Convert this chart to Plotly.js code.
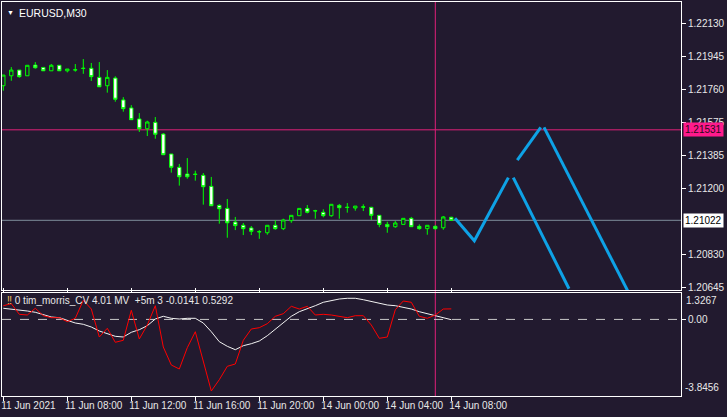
<!DOCTYPE html>
<html><head><meta charset="utf-8">
<script src="https://cdn.plot.ly/plotly-3.0.1.min.js"></script>
<style>html,body{margin:0;padding:0;background:#221a2f;}#chart{width:727px;height:417px;}</style>
</head><body><div id="chart"></div>
<script>
// bar index (30-minute bars, 11 Jun 04:00 .. 14 Jun 08:00, weekend skipped)
const bars = [0,1,2,3,4,5,6,7,8,9,10,11,12,13,14,15,16,17,18,19,20,21,22,23,24,25,26,27,28,29,30,31,32,33,34,35,36,37,38,39,40,41,42,43,44,45,46,47,48,49,50,51,52,53,54,55,56];
const tickIdx = [0,8,16,24,32,40,48,56];
const tickLabels = ['11 Jun 2021','11 Jun 08:00','11 Jun 12:00','11 Jun 16:00','11 Jun 20:00','14 Jun 00:00','14 Jun 04:00','14 Jun 08:00'];

const open  = [1.21779,1.21835,1.21867,1.21835,1.21895,1.21882,1.21863,1.21894,1.21863,1.21867,1.21878,1.21877,1.21826,1.21779,1.21822,1.21699,1.21654,1.21592,1.21537,1.21573,1.21507,1.21395,1.21320,1.21282,1.21282,1.21275,1.21213,1.21106,1.21089,1.21012,1.20994,1.20979,1.20959,1.20952,1.20994,1.20975,1.21020,1.21048,1.21089,1.21076,1.21067,1.21048,1.21106,1.21096,1.21091,1.21098,1.21095,1.21050,1.20999,1.20986,1.20999,1.21033,1.20988,1.20975,1.20988,1.20980,1.21039];
const high  = [1.21839,1.21884,1.21867,1.21894,1.21912,1.21882,1.21901,1.21894,1.21873,1.21901,1.21929,1.21907,1.21912,1.21867,1.21832,1.21715,1.21670,1.21625,1.21582,1.21603,1.21513,1.21395,1.21339,1.21372,1.21301,1.21288,1.21266,1.21112,1.21142,1.21041,1.21007,1.20990,1.20967,1.20994,1.21022,1.21031,1.21050,1.21089,1.21108,1.21081,1.21084,1.21112,1.21114,1.21119,1.21102,1.21112,1.21098,1.21050,1.21014,1.21018,1.21033,1.21041,1.20999,1.20994,1.20994,1.21046,1.21042];
const low   = [1.21751,1.21807,1.21824,1.21835,1.21875,1.21863,1.21863,1.21863,1.21854,1.21858,1.21846,1.21806,1.21773,1.21740,1.21689,1.21633,1.21588,1.21519,1.21496,1.21481,1.21389,1.21290,1.21217,1.21256,1.21245,1.21110,1.21104,1.21003,1.20924,1.20967,1.20939,1.20939,1.20918,1.20941,1.20969,1.20967,1.21008,1.21048,1.21061,1.21031,1.21039,1.21042,1.21031,1.21065,1.21076,1.21074,1.21024,1.20983,1.20952,1.20980,1.20999,1.20986,1.20969,1.20941,1.20969,1.20969,1.21018];
const close = [1.21839,1.21867,1.21830,1.21894,1.21880,1.21863,1.21894,1.21863,1.21873,1.21869,1.21876,1.21830,1.21773,1.21826,1.21703,1.21650,1.21588,1.21537,1.21575,1.21506,1.21391,1.21320,1.21267,1.21267,1.21280,1.21211,1.21104,1.21087,1.21008,1.20992,1.20975,1.20960,1.20957,1.20994,1.20975,1.21024,1.21050,1.21089,1.21067,1.21075,1.21048,1.21112,1.21093,1.21094,1.21102,1.21096,1.21050,1.20999,1.20986,1.21007,1.21033,1.20986,1.20975,1.20994,1.20975,1.21041,1.21022];

// projection (blue) segments, null = break
const projX = [56.46,58.88,63.13,null,63.75,70.71,null,64.25,67.18,null,67.59,78.43];
const projY = [1.21033,1.20907,1.21262,null,1.21262,1.20637,null,1.21361,1.21545,null,1.21545,1.20592];

// price levels
const levelPink = 1.21531;
const levelBid = 1.21022;
const cursorBar = 54;
const priceTicks = [1.22130,1.21945,1.21760,1.21575,1.21385,1.21200,1.20830,1.20645];

// indicator window
const mvLine = [0.559,0.523,0.458,0.423,0.358,0.257,0.122,0.087,-0.044,-0.180,-0.245,-0.381,-0.582,-0.717,-0.848,-0.883,-0.647,-0.516,-0.315,0.021,0.157,0.056,0.021,0.056,0.056,-0.180,-0.617,-1.119,-1.350,-1.520,-1.320,-1.219,-1.084,-0.818,-0.481,-0.180,0.157,0.388,0.523,0.689,0.860,0.960,1.025,1.061,1.061,0.990,0.890,0.789,0.724,0.689,0.624,0.523,0.388,0.287,0.187,0.087,-0.0141];
const cvLine = [0.689,0.789,0.257,0.222,0.559,0.187,0.087,0.087,-0.114,0.056,0.960,0.523,-0.883,-0.446,-1.149,-1.048,0.458,-0.983,-0.280,0.689,-1.385,-2.289,-2.490,-1.420,-0.617,-2.123,-3.594,-3.027,-2.354,-2.239,-1.048,-0.481,-0.416,-0.215,0.157,0.287,0.659,0.523,0.659,0.222,0.257,0.222,0.157,0.087,0.187,0.187,-0.280,-0.948,-0.883,0.488,0.925,0.860,0.157,0.056,0.222,0.523,0.5292];
const indMax = 1.3267, indMin = -3.8456;

const BG = '#221a2f';
const FONT = 'Liberation Sans, Arial, sans-serif';
const PINK = '#e0207a';

const traces = [
  {type:'candlestick', x:bars, open:open, high:high, low:low, close:close, xaxis:'x', yaxis:'y',
   increasing:{line:{color:'#00ff00',width:1}, fillcolor:BG},
   decreasing:{line:{color:'#00ff00',width:1}, fillcolor:'#ffffff'},
   whiskerwidth:0, hoverinfo:'skip'},
  {type:'scatter', mode:'lines', x:projX, y:projY, xaxis:'x', yaxis:'y', connectgaps:false,
   line:{color:'#0ea2e6', width:3}, hoverinfo:'skip'},
  {type:'scatter', mode:'lines', x:bars, y:mvLine, xaxis:'x', yaxis:'y2',
   line:{color:'#f2f2f2', width:1}, hoverinfo:'skip'},
  {type:'scatter', mode:'lines', x:bars, y:cvLine, xaxis:'x', yaxis:'y2',
   line:{color:'#ff0000', width:1}, hoverinfo:'skip'}
];

const axisCommon = {showgrid:false, zeroline:false, showline:true, linecolor:'#ffffff', linewidth:1,
  ticks:'outside', ticklen:4, tickcolor:'#ffffff', fixedrange:true,
  tickfont:{family:FONT, size:10, color:'#e8e8e8'}};

const layout = {
  width:727, height:417,
  paper_bgcolor:BG, plot_bgcolor:BG,
  margin:{l:2, r:46, t:2, b:21},
  showlegend:false,
  boxgap:0.4,
  font:{family:FONT, size:10, color:'#e8e8e8'},
  xaxis:Object.assign({}, axisCommon, {range:[-0.1625,84.7125], anchor:'y2', mirror:'all',
    tickmode:'array', tickvals:tickIdx, ticktext:tickLabels, tickangle:0, ticklabelposition:'outside right',
    ticklabelshift:-3, ticklabeloverflow:'allow', rangeslider:{visible:false}}),
  yaxis:Object.assign({}, axisCommon, {domain:[0.26904,1], range:[1.20630,1.22250], side:'right', mirror:true,
    anchor:'x', tickmode:'array', tickvals:priceTicks, ticktext:priceTicks.map(v=>v.toFixed(5))}),
  yaxis2:Object.assign({}, axisCommon, {domain:[0,0.26142], range:[indMin,indMax], side:'right', mirror:true,
    anchor:'x', tickmode:'array', tickvals:[0], ticktext:['0.00']}),
  shapes:[
    {type:'line', xref:'x', yref:'paper', x0:cursorBar, x1:cursorBar, y0:0, y1:1, layer:'below', line:{color:PINK, width:1}},
    {type:'line', xref:'paper', yref:'y', x0:0, x1:1, y0:levelPink, y1:levelPink, layer:'below', line:{color:PINK, width:1}},
    {type:'line', xref:'paper', yref:'y', x0:0, x1:1, y0:levelBid, y1:levelBid, layer:'below', line:{color:'#7f8e9c', width:1}},
    {type:'line', xref:'paper', yref:'y2', x0:0, x1:1, y0:0, y1:0, layer:'below', line:{color:'#c8c8c8', width:1, dash:'dash'}}
  ],
  annotations:[
    {xref:'paper', yref:'paper', x:0, y:1, xanchor:'left', yanchor:'top', xshift:3, yshift:-5, showarrow:false,
     text:'▼', font:{family:FONT, size:7, color:'#ffffff'}},
    {xref:'paper', yref:'paper', x:0, y:1, xanchor:'left', yanchor:'top', xshift:15, yshift:-3, showarrow:false,
     text:'EURUSD,M30', font:{family:FONT, size:10.5, color:'#ffffff'}},
    {xref:'paper', yref:'y', x:1, y:levelPink, xanchor:'left', yanchor:'middle', xshift:2, showarrow:false,
     text:levelPink.toFixed(5), bgcolor:'#ff1a8c', borderpad:1, font:{family:FONT, size:10, color:'#2a0a1a'}},
    {xref:'paper', yref:'y', x:1, y:levelBid, xanchor:'left', yanchor:'middle', xshift:2, showarrow:false,
     text:levelBid.toFixed(5), bgcolor:'#ffffff', borderpad:1, font:{family:FONT, size:10, color:'#000000'}},
    {xref:'paper', yref:'y2', x:0, y:indMax, xanchor:'left', yanchor:'top', xshift:3, yshift:0, showarrow:false,
     text:'<span style="color:#f0c060">‼</span> 0 tim_morris_CV 4.01 MV  +5m 3 ' + mvLine[mvLine.length-1].toFixed(4) + ' ' + cvLine[cvLine.length-1].toFixed(4),
     font:{family:FONT, size:10, color:'#e8e8e8'}},
    {xref:'paper', yref:'y2', x:1, y:indMax, xanchor:'left', yanchor:'top', xshift:3, showarrow:false,
     text:indMax.toFixed(4), font:{family:FONT, size:10, color:'#e8e8e8'}},
    {xref:'paper', yref:'y2', x:1, y:indMin, xanchor:'left', yanchor:'bottom', xshift:2, yshift:1, showarrow:false,
     text:indMin.toFixed(4), font:{family:FONT, size:10, color:'#e8e8e8'}}
  ]
};

Plotly.newPlot('chart', traces, layout, {staticPlot:true, displayModeBar:false});
</script>
</body></html>
